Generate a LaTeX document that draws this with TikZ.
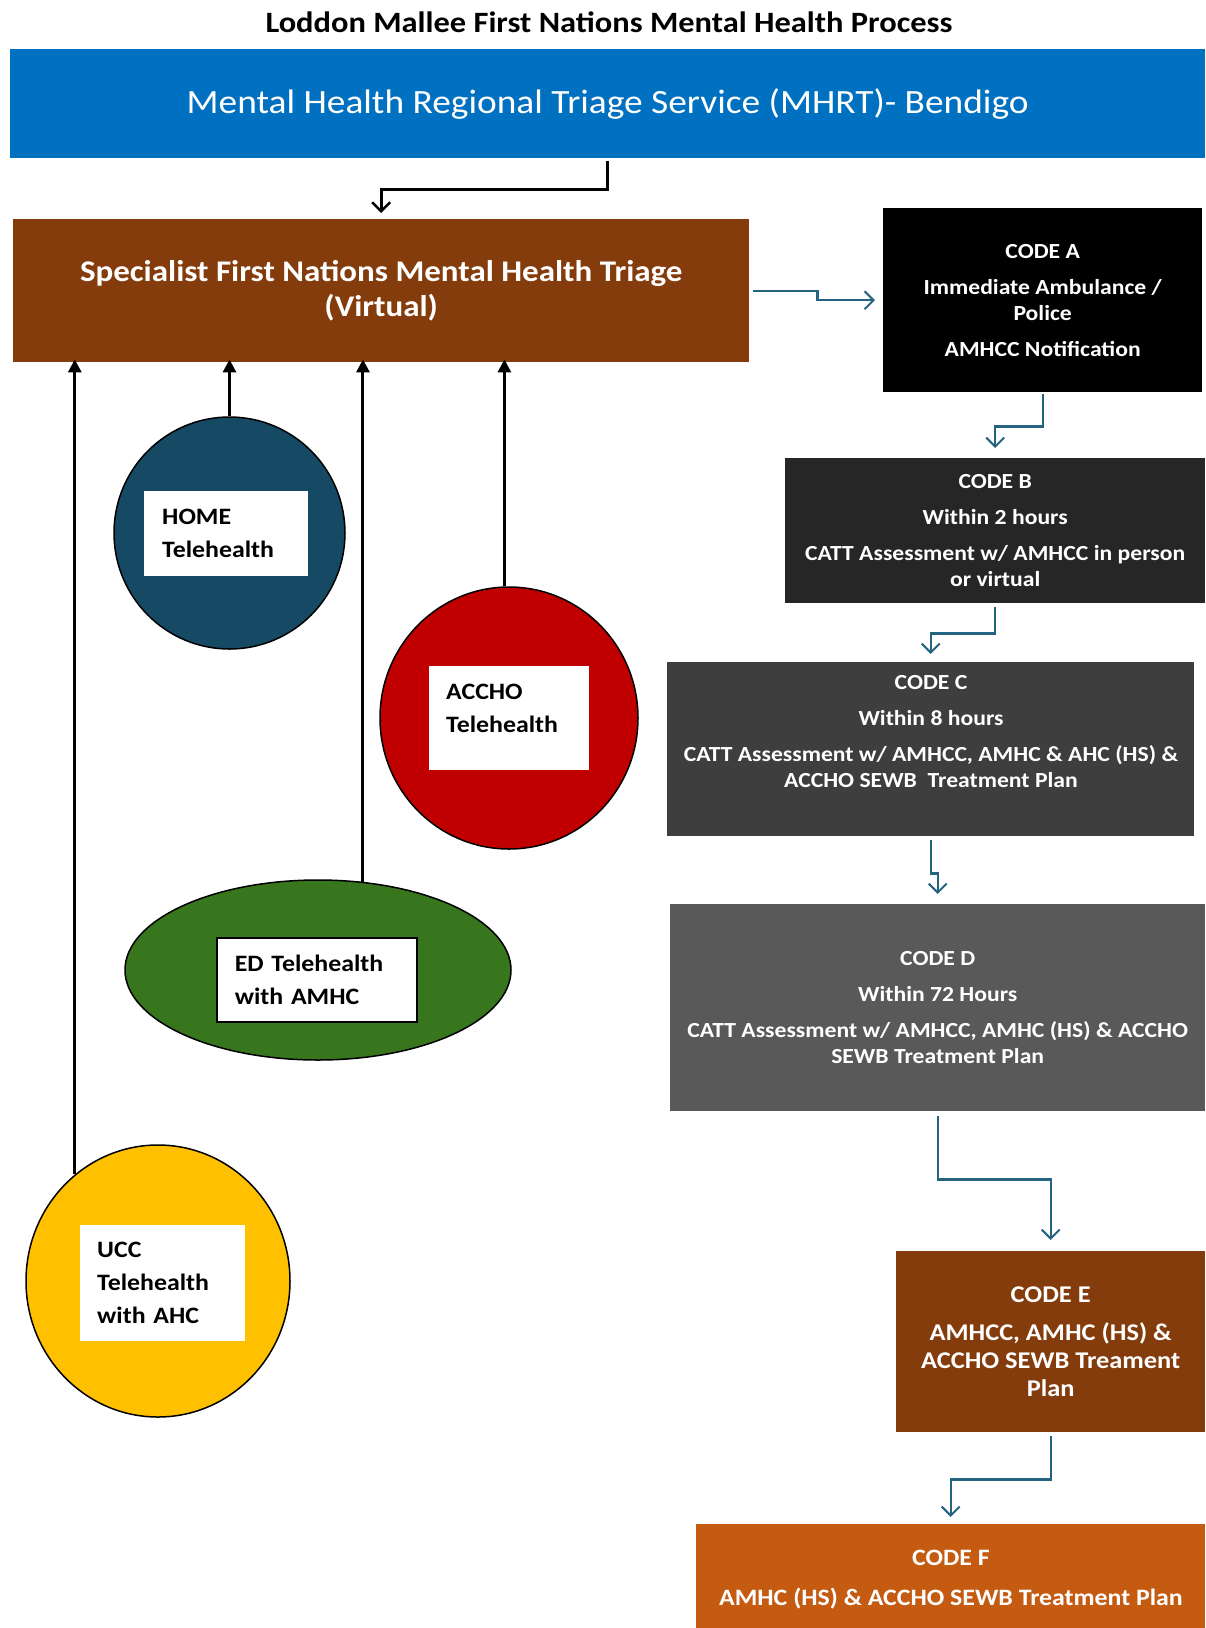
\documentclass[tikz,border=0pt]{standalone}
\usepackage{fontspec}
\setmainfont{Carlito}[FakeStretch=1.1]
\usetikzlibrary{arrows.meta,shapes.geometric}
\definecolor{mhrtblue}{RGB}{0,112,192}
\definecolor{brownbox}{RGB}{132,60,12}
\definecolor{codeB}{RGB}{38,38,38}
\definecolor{codeC}{RGB}{62,62,62}
\definecolor{codeD}{RGB}{89,89,89}
\definecolor{codeF}{RGB}{197,90,17}
\definecolor{homeblue}{RGB}{22,73,100}
\definecolor{acchored}{RGB}{192,0,0}
\definecolor{edgreen}{RGB}{56,118,30}
\definecolor{uccyellow}{RGB}{255,192,0}
\definecolor{tealline}{RGB}{36,100,128}
\tikzset{
  box/.style={rectangle, inner sep=0pt, anchor=north west},
  codetext/.style={text=white, font=\bfseries\fontsize{21.5}{26}\selectfont, align=center, inner sep=0pt},
  blob/.style={ellipse, draw=black, line width=1.5pt, inner sep=0pt},
  lbl/.style={rectangle, fill=white, anchor=north west, align=left, font=\bfseries\fontsize{23.5}{33}\selectfont, text=black, inner ysep=0pt},
  tarrow/.style={draw=tealline, line width=2.2pt, -{Straight Barb[length=9pt,width=18pt,line width=2pt]}},
  barrow/.style={draw=black, line width=3pt, -{Straight Barb[length=9pt,width=18pt,line width=2.5pt]}},
  uparrow/.style={draw=black, line width=3pt, -{Triangle[length=13pt,width=13pt]}},
}
\begin{document}
\begin{tikzpicture}[x=1pt,y=-1pt]
\useasboundingbox[fill=white] (0,0) rectangle (1205,1628);

\node[inner sep=0pt, font=\bfseries\fontsize{29.5}{32}\selectfont] (title) at (609,22) {Loddon Mallee First Nations Mental Health Process};

\node[box, fill=mhrtblue, minimum width=1195pt, minimum height=109pt] (mhrt) at (10,49) {};
\node[inner sep=0pt, text=white, font=\fontsize{34}{40}\selectfont] (mhrttxt) at (mhrt.center) {Mental Health Regional Triage Service (MHRT)- Bendigo};

\node[box, fill=brownbox, minimum width=736pt, minimum height=143pt] (triage) at (13,219) {};
\node[inner sep=0pt, text=white, align=center, font=\bfseries\fontsize{30}{35}\selectfont] (triagetxt) at (triage.center) {Specialist First Nations Mental Health Triage\\(Virtual)};

% Code boxes
\node[box, fill=black, minimum width=319pt, minimum height=184pt] (codeA) at (883,208) {};
\node[codetext] (codeAtxt) at (codeA.center) {CODE A\\[10pt]Immediate Ambulance /\\Police\\[10pt]AMHCC Notification};

\node[box, fill=codeB, minimum width=420pt, minimum height=145pt] (codeB) at (785,458) {};
\node[codetext] (codeBtxt) at (codeB.center) {CODE B\\[10pt]Within 2 hours\\[10pt]CATT Assessment w/ AMHCC in person\\or virtual};

\node[box, fill=codeC, minimum width=527pt, minimum height=174pt] (codeC) at (667,662) {};
\node[codetext] (codeCtxt) at (931,732) {CODE C\\[10pt]Within 8 hours\\[10pt]CATT Assessment w/ AMHCC, AMHC \& AHC (HS) \&\\ACCHO SEWB\ \ Treatment Plan};

\node[box, fill=codeD, minimum width=535pt, minimum height=207pt] (codeD) at (670,904) {};
\node[codetext] (codeDtxt) at (codeD.center) {CODE D\\[10pt]Within 72 Hours\\[10pt]CATT Assessment w/ AMHCC, AMHC (HS) \& ACCHO\\SEWB Treatment Plan};

\node[box, fill=brownbox, minimum width=309pt, minimum height=181pt] (codeE) at (896,1251) {};
\node[codetext, font=\bfseries\fontsize{24}{28}\selectfont] (codeEtxt) at (codeE.center) {CODE E\\[10pt]AMHCC, AMHC (HS) \&\\ACCHO SEWB Treament\\Plan};

\node[box, fill=codeF, minimum width=509pt, minimum height=104pt] (codeF) at (696,1524) {};
\node[codetext, font=\bfseries\fontsize{23.5}{28}\selectfont] (codeFtxt) at (951,1580) {CODE F\\[12pt]AMHC (HS) \& ACCHO SEWB Treatment Plan};

% Circles
\node[blob, fill=homeblue, minimum width=231pt, minimum height=232pt] (home) at (229.5,533) {};
\node[lbl, minimum height=85pt, text width=128pt, inner xsep=18pt] (homelbl) at (144,491) {HOME\\Telehealth};

\node[blob, fill=acchored, minimum width=258pt, minimum height=262pt] (accho) at (509,718) {};
\node[lbl, minimum height=104pt, text width=126pt, inner xsep=17pt] (accholbl) at (429,666) {ACCHO\\Telehealth\\[-14pt]\mbox{}};

\node[blob, fill=edgreen, minimum width=386pt, minimum height=180pt] (ed) at (318,970) {};
\node[lbl, draw=black, line width=1.5pt, minimum height=84pt, text width=164pt, inner xsep=18pt] (edlbl) at (216,937) {ED Telehealth\\with AMHC};

\node[blob, fill=uccyellow, minimum width=264pt, minimum height=272pt] (ucc) at (158,1281) {};
\node[lbl, minimum height=116pt, text width=131pt, inner xsep=17pt] (ucclbl) at (80,1225) {UCC\\Telehealth\\with AHC};

% Black arrows
\draw[barrow, shorten <=3pt, shorten >=6pt] (mhrt.south) -- ++(0,31) -| (triage.north);
\draw[uparrow, shorten >=-3pt] (home.north) -- (home.north |- triage.south);
\draw[uparrow, shorten >=-3pt] (accho.92) -- (accho.92 |- triage.south);
\draw[uparrow, shorten >=-3pt] (ed.63) -- (ed.63 |- triage.south);
\draw[uparrow, shorten >=-3pt] (ucc.128) -- (ucc.128 |- triage.south);

% Teal arrows
\draw[tarrow, shorten <=4pt, shorten >=8pt] (triage.east) -- ++(68,0) |- (codeA.west);
\draw[tarrow, shorten <=2pt, shorten >=10pt] (codeA.south) -- ++(0,34) -| (codeB.north);
\draw[tarrow, shorten <=4pt, shorten >=8pt] (codeB.south) -- ++(0,30) -| (codeC.north);
\draw[tarrow, shorten <=4pt, shorten >=10pt] (codeC.south) -- ++(0,37) -| (codeD.north);
\draw[tarrow, shorten <=5pt, shorten >=11pt] (codeD.south) -- ++(0,68) -| (codeE.north);
\draw[tarrow, shorten <=4pt, shorten >=7pt] (codeE.south) -- ++(0,47) -| (codeF.north);
\end{tikzpicture}
\end{document}
